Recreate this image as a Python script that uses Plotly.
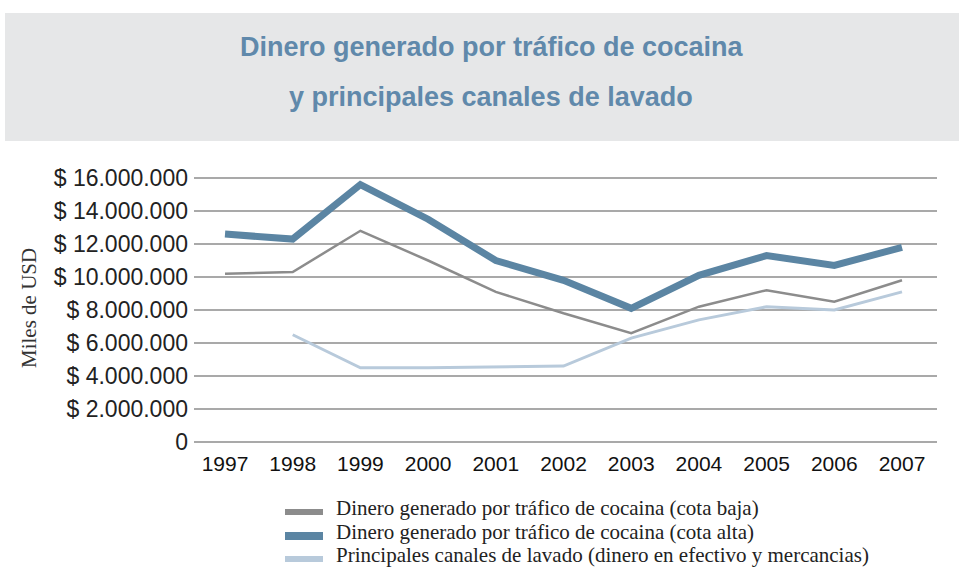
import plotly.graph_objects as go

# ---- data ----
years = [1997, 1998, 1999, 2000, 2001, 2002, 2003, 2004, 2005, 2006, 2007]
cota_baja = [10200000, 10300000, 12800000, 11000000, 9100000, 7800000, 6600000, 8200000, 9200000, 8500000, 9800000]
cota_alta = [12600000, 12300000, 15600000, 13500000, 11000000, 9800000, 8100000, 10100000, 11300000, 10700000, 11800000]
lavado = [None, 6500000, 4500000, 4500000, 4550000, 4600000, 6300000, 7400000, 8200000, 8000000, 9100000]

names = [
    "Dinero generado por tráfico de cocaina (cota baja)",
    "Dinero generado por tráfico de cocaina (cota alta)",
    "Principales canales de lavado (dinero en efectivo y mercancias)",
]
ytick_vals = [0, 2000000, 4000000, 6000000, 8000000, 10000000, 12000000, 14000000, 16000000]
ytick_text = ["0", "$ 2.000.000", "$ 4.000.000", "$ 6.000.000", "$ 8.000.000",
              "$ 10.000.000", "$ 12.000.000", "$ 14.000.000", "$ 16.000.000"]
title_lines = ["Dinero generado por tráfico de cocaina", "y principales canales de lavado"]
y_title = "Miles de USD"

colors = ["#8c8c8c", "#5b85a3", "#b8cadb"]
widths = [2.5, 7, 3]
legend_widths = [6, 8, 6]

W, H = 959, 571
ML, MR, MT, MB = 194, 22, 176, 127
PW, PH = W - ML - MR, H - MT - MB


def px(x):
    return (x - ML) / PW


def py(y):
    return (H - MB - y) / PH


fig = go.Figure()
for vals, name, c, w in zip([cota_baja, cota_alta, lavado], names, colors, widths):
    fig.add_trace(go.Scatter(x=years, y=vals, mode="lines", name=name,
                             line=dict(color=c, width=w), showlegend=False,
                             connectgaps=False))

# manual legend (swatches + labels)
legend_rows = [512, 536, 559]
shapes = [dict(type="rect", xref="paper", yref="paper", x0=px(5), x1=px(965),
               y0=py(141), y1=py(13), fillcolor="#e6e7e8", line=dict(width=0), layer="below")]
annotations = []
for name, c, lw, row in zip(names, colors, legend_widths, legend_rows):
    shapes.append(dict(type="line", xref="paper", yref="paper", x0=px(285), x1=px(323),
                       y0=py(row), y1=py(row), line=dict(color=c, width=lw)))
    annotations.append(dict(text=name, xref="paper", yref="paper", x=px(334), y=py(row - 4),
                            xanchor="left", yanchor="middle", showarrow=False,
                            font=dict(family="Liberation Serif, serif", size=21, color="#222")))

title_font = dict(family="Liberation Sans, Arial, sans-serif", size=27, color="#6089ab")
annotations += [
    dict(text="<b>" + title_lines[0] + "</b>", xref="paper", yref="paper", x=px(492), y=py(47),
         xanchor="center", yanchor="middle", showarrow=False, font=title_font),
    dict(text="<b>" + title_lines[1] + "</b>", xref="paper", yref="paper", x=px(491), y=py(97),
         xanchor="center", yanchor="middle", showarrow=False, font=title_font),
    dict(text=y_title, xref="paper", yref="paper", x=px(29), y=py(308), textangle=-90,
         xanchor="center", yanchor="middle", showarrow=False,
         font=dict(family="Liberation Serif, serif", size=21, color="#333")),
]

fig.update_layout(
    width=W, height=H,
    margin=dict(l=ML, r=MR, t=MT, b=MB),
    paper_bgcolor="white", plot_bgcolor="white",
    showlegend=False,
    xaxis=dict(range=[1996.542, 2007.517], tickvals=years, ticktext=[str(y) for y in years],
               showgrid=False, zeroline=False, showline=False, ticks="",
               tickfont=dict(family="Liberation Sans, Arial, sans-serif", size=21, color="#111"),
               ticklabelstandoff=5),
    yaxis=dict(range=[-121212, 16121212], tickvals=ytick_vals, ticktext=ytick_text,
               showgrid=True, gridcolor="#a9a9a9", gridwidth=2,
               zeroline=False, showline=False, ticks="",
               tickfont=dict(family="Liberation Sans, Arial, sans-serif", size=23, color="#222"),
               ticklabelstandoff=5),
    shapes=shapes,
    annotations=annotations,
)

fig.write_html("out.html", config={"displayModeBar": False},
               post_script="document.body.style.margin='0px';")
